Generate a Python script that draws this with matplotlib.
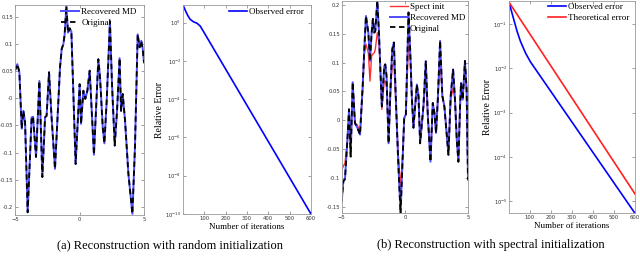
import numpy as np
import matplotlib
matplotlib.use('Agg')
import matplotlib.pyplot as plt
from matplotlib.ticker import FuncFormatter, FixedLocator, NullLocator

plt.rcParams['font.family'] = ['Liberation Serif', 'DejaVu Serif']
plt.rcParams['mathtext.fontset'] = 'dejavusans'

# ---- (a) random init: signal ----
xa = [-5.00, -4.82, -4.66, -4.48, -4.35, -4.22, -4.02, -3.71, -3.60, -3.37,
      -3.11, -2.88, -2.67, -2.55, -2.36, -2.18, -1.90, -1.51, -1.38, -1.25,
      -1.15, -1.02, -0.89, -0.76, -0.63, -0.30, 0.01, 0.12, 0.30, 0.45,
      0.61, 0.79, 1.12, 1.46, 1.59, 1.69, 1.80, 1.93, 2.11, 2.36,
      2.52, 2.73, 2.91, 3.11, 3.22, 3.35, 3.53, 3.79, 4.10, 4.30,
      4.51, 4.66, 4.79, 4.90, 5.00]
ya_orig = [0.051, 0.063, 0.048, -0.056, -0.023, -0.044, -0.210, -0.035, -0.034, -0.108,
           0.032, -0.145, -0.035, -0.032, 0.048, -0.029, -0.130, 0.057, 0.091, 0.100,
           0.118, 0.170, 0.121, 0.129, 0.123, -0.121, 0.026, -0.047, 0.014, -0.001,
           0.014, 0.051, -0.104, 0.072, 0.039, -0.004, -0.053, -0.083, -0.004, 0.142,
           0.026, -0.087, -0.023, 0.074, -0.023, 0.008, -0.041, -0.139, -0.213, -0.090,
           0.118, 0.094, 0.106, 0.091, 0.066]
ya_rec = list(ya_orig)

# ---- (a) random init: error ----
it_a = [1, 11, 22, 34, 50, 66, 81, 97, 600]
err_a = [8.3, 4.6, 2.5, 1.5, 1.1, 0.93, 0.67, 0.34, 1e-10]

# ---- (b) spectral init: signal ----
xb = [-5.00, -4.87, -4.74, -4.55, -4.42, -4.29, -4.13, -3.95, -3.76, -3.55,
      -3.34, -3.21, -3.08, -2.89, -2.76, -2.63, -2.53, -2.42, -2.34, -2.18,
      -2.05, -1.95, -1.82, -1.63, -1.55, -1.45, -1.29, -1.13, -1.00, -0.87,
      -0.71, -0.53, -0.34, -0.18, -0.05, 0.08, 0.29, 0.42, 0.55, 0.68,
      0.95, 1.08, 1.21, 1.47, 1.66, 1.82, 2.03, 2.21, 2.34, 2.47,
      2.61, 2.79, 2.97, 3.13, 3.45, 3.63, 3.82, 3.97, 4.11, 4.24,
      4.37, 4.45, 4.58, 4.76, 4.89, 5.00]
yb_orig = [-0.141, -0.106, -0.102, -0.034, 0.019, -0.063, 0.066, -0.005, -0.013, -0.025,
           0.059, 0.123, 0.181, 0.152, 0.103, 0.152, 0.176, 0.152, 0.155, 0.208,
           0.152, 0.094, 0.024, 0.094, 0.097, 0.077, -0.040, 0.059, 0.123, 0.135,
           0.036, -0.069, -0.162, -0.069, 0.004, 0.010, 0.187, 0.123, 0.042, -0.013,
           0.062, 0.042, -0.040, 0.024, 0.103, 0.007, -0.072, 0.030, 0.013, -0.022,
           0.036, 0.138, 0.042, 0.024, -0.060, 0.042, 0.088, 0.036, -0.034, -0.072,
           0.024, 0.065, 0.036, 0.103, 0.053, -0.103]
yb_rec = list(yb_orig)
yb_spect = [-0.086, -0.080, -0.074, -0.037, 0.016, -0.060, 0.062, -0.005, -0.008, -0.022,
            0.053, 0.115, 0.132, 0.117, 0.068, 0.112, 0.115, 0.117, 0.123, 0.152,
            0.135, 0.094, 0.019, 0.068, 0.068, 0.059, -0.037, 0.053, 0.094, 0.100,
            0.030, -0.057, -0.115, -0.063, 0.004, 0.010, 0.135, 0.112, 0.042, -0.010,
            0.056, 0.042, -0.037, 0.024, 0.071, 0.007, -0.069, 0.030, 0.013, -0.019,
            0.036, 0.106, 0.042, 0.024, -0.057, 0.036, 0.056, 0.036, -0.031, -0.069,
            0.024, 0.053, 0.036, 0.094, 0.053, -0.103]

# ---- (b) spectral init: errors ----
it_b_obs = [1, 25, 40, 56, 80, 103, 600]
err_b_obs = [0.31, 0.12, 0.067, 0.04, 0.022, 0.014, 5.4e-6]
it_b_th = [1, 600]
err_b_th = [0.31, 1.48e-5]

W, H = 640, 257


def rect(l, r, t, b):
    return [l / W, 1 - b / H, (r - l) / W, (b - t) / H]


def style_axes(ax):
    for s in ax.spines.values():
        s.set_color('#9a9a9a')
        s.set_linewidth(0.6)
    ax.tick_params(direction='in', length=2, width=0.5, color='#777777',
                   labelsize=3.8, labelcolor='#333333', pad=1.2,
                   top=True, right=True)
    for lab in ax.get_xticklabels() + ax.get_yticklabels():
        lab.set_family('DejaVu Sans')


def fmt_g(v, pos):
    return '%g' % round(v, 3)


fig = plt.figure(figsize=(6.4, 2.57), dpi=100)

# panel 1
ax1 = fig.add_axes(rect(15, 144, 5, 215))
ax1.plot(xa, ya_rec, color='#4d4dff', lw=1.4, label='Recovered MD')
ax1.plot(xa, ya_orig, color='black', lw=1.3, ls=(0, (3, 2)), label='Original')
ax1.set_xlim(-5, 5)
ax1.set_ylim(-0.215, 0.172)
ax1.set_xticks([-5, 0, 5])
ax1.set_yticks(np.arange(-0.2, 0.16, 0.05))
ax1.yaxis.set_major_formatter(FuncFormatter(fmt_g))
ax1.legend(loc='upper left', bbox_to_anchor=(0.36, 0.985), frameon=False,
           fontsize=6.5, handlelength=2.0, handletextpad=0.2,
           labelspacing=0.25, borderpad=0, borderaxespad=0)
style_axes(ax1)

# panel 2
ax2 = fig.add_axes(rect(183, 311, 5, 214))
ax2.semilogy(it_a, err_a, color='#0000ff', lw=1.2, label='Observed error')
ax2.set_xlim(1, 600)
ax2.set_ylim(1e-10, 8.3)
ax2.set_xticks([100, 200, 300, 400, 500, 600])
ax2.yaxis.set_major_locator(FixedLocator([1e-10, 1e-8, 1e-6, 1e-4, 1e-2, 1]))
ax2.yaxis.set_minor_locator(NullLocator())
ax2.set_xlabel('Number of iterations', fontsize=6.5, labelpad=2)
ax2.set_ylabel('Relative Error', fontsize=7, labelpad=1)
ax2.legend(loc='upper left', bbox_to_anchor=(0.36, 0.985), frameon=False,
           fontsize=6.5, handlelength=2.0, handletextpad=0.2,
           borderpad=0, borderaxespad=0)
style_axes(ax2)

# panel 3
ax3 = fig.add_axes(rect(341.7, 468, 1, 213))
ax3.plot(xb, yb_spect, color='#ff3030', lw=1.0, label='Spect init')
ax3.plot(xb, yb_rec, color='#4d4dff', lw=1.4, label='Recovered MD')
ax3.plot(xb, yb_orig, color='black', lw=1.3, ls=(0, (3, 2)), label='Original')
ax3.set_xlim(-5, 5)
ax3.set_ylim(-0.161, 0.207)
ax3.set_xticks([-5, 0, 5])
ax3.set_yticks(np.arange(-0.15, 0.21, 0.05))
ax3.yaxis.set_major_formatter(FuncFormatter(fmt_g))
ax3.legend(loc='upper left', bbox_to_anchor=(0.38, 0.99), frameon=False,
           fontsize=6.5, handlelength=2.0, handletextpad=0.2,
           labelspacing=0.25, borderpad=0, borderaxespad=0)
style_axes(ax3)

# panel 4
ax4 = fig.add_axes(rect(509, 635, 1, 213))
ax4.semilogy(it_b_obs, err_b_obs, color='#0000ff', lw=1.2, label='Observed error')
ax4.semilogy(it_b_th, err_b_th, color='#ff2020', lw=1.2, label='Theoretical error')
ax4.set_xlim(1, 600)
ax4.set_ylim(5.5e-6, 0.33)
ax4.set_xticks([100, 200, 300, 400, 500, 600])
ax4.yaxis.set_major_locator(FixedLocator([1e-5, 1e-4, 1e-3, 1e-2, 1e-1]))
ax4.yaxis.set_minor_locator(NullLocator())
ax4.set_xlabel('Number of iterations', fontsize=6.5, labelpad=2)
ax4.set_ylabel('Relative Error', fontsize=7, labelpad=1)
ax4.legend(loc='upper left', bbox_to_anchor=(0.31, 0.99), frameon=False,
           fontsize=6.5, handlelength=2.0, handletextpad=0.2,
           labelspacing=0.25, borderpad=0, borderaxespad=0)
style_axes(ax4)

# captions
fig.text(170 / W, 1 - 245 / H, '(a) Reconstruction with random initialization',
         ha='center', va='center', fontsize=9)
fig.text(491 / W, 1 - 245 / H, '(b) Reconstruction with spectral initialization',
         ha='center', va='center', fontsize=9)

fig.savefig('out.png', dpi=100)
